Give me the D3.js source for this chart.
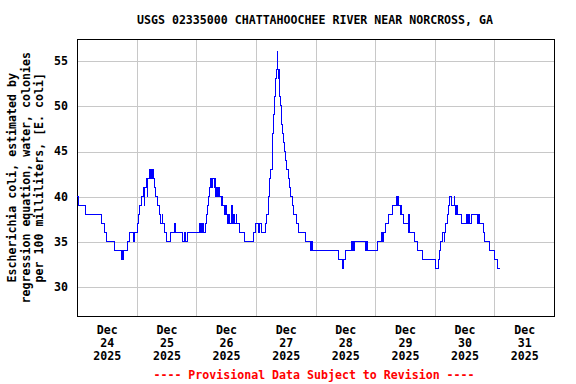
<!DOCTYPE html>
<html>
<head>
<meta charset="utf-8">
<script src="https://cdn.jsdelivr.net/npm/d3@7"></script>
<style>
  body { margin: 0; background: #fff; }
  text { font-family: "DejaVu Sans Mono", monospace; font-weight: bold; font-size: 11.6px; }
</style>
</head>
<body>
<div class="chart"></div>
<script>
// hours since Dec 24 2025 00:00, and the estimated E. coli value from that time on
const hoursSinceStart = [
  0, 0.5, 3.6, 10.0, 11.0, 12.0, 14.9, 17.8, 18.2, 18.5, 18.9, 20.3, 21.0, 22.8, 23.2,
  24.4, 24.8, 25.2, 25.8, 26.6, 27.0, 27.3, 27.8, 28.2, 28.5, 29.0, 29.3, 29.7, 30.1, 30.4,
  30.7, 31.2, 31.6, 32.3, 33.2, 33.7, 34.3, 34.5, 35.3, 36.2, 37.5, 39.4, 39.7, 42.6, 43.2,
  43.8, 44.5, 49.3, 49.6, 50.0, 50.3, 50.7, 51.0, 51.7, 52.2, 52.6, 52.9, 53.3, 53.8, 54.3,
  54.6, 55.2, 55.5, 55.8, 56.2, 56.6, 56.9, 57.4, 58.0, 58.4, 58.7, 59.4, 59.8, 60.1, 60.6,
  61.0, 61.4, 62.1, 62.4, 63.0, 63.3, 64.0, 64.3, 65.5, 67.5, 71.2, 71.8, 72.9, 73.6, 74.2,
  76.0, 76.4, 76.9, 77.4, 78.0, 78.6, 79.0, 79.2, 79.6, 80.0, 80.4, 80.7, 80.9, 81.1, 81.3,
  81.7, 82.1, 82.4, 82.8, 83.2, 83.6, 84.0, 84.5, 85.0, 85.4, 86.0, 86.6, 87.3, 88.3, 89.2,
  91.9, 93.9, 94.3, 94.6, 105.3, 107.0, 107.3, 108.2, 110.6, 110.9, 111.2, 111.5, 111.8, 116.2, 116.5,
  116.8, 121.0, 122.6, 123.0, 123.3, 124.2, 125.3, 126.8, 128.6, 128.9, 129.2, 129.5, 130.1, 130.5, 130.8,
  131.5, 133.3, 133.6, 133.8, 135.9, 137.2, 139.2, 144.2, 145.5, 145.8, 146.3, 147.3, 147.8, 148.0, 148.5,
  149.0, 149.5, 150.0, 150.9, 151.8, 152.1, 152.4, 152.7, 153.1, 154.6, 156.6, 156.9, 157.2, 157.5, 157.8,
  158.1, 158.6, 161.3, 161.7, 162.0, 163.6, 164.2, 165.9, 168.2, 169.4, 170.3
]
const ecoliValues = [
  40, 39, 38, 37, 36, 35, 34, 33, 34, 33, 34, 35, 36, 35, 36,
  37, 38, 39, 40, 41, 39, 41, 42, 40, 42, 43, 42, 43, 42, 43,
  42, 41, 40, 39, 38, 37, 38, 37, 36, 35, 36, 37, 36, 35, 36,
  35, 36, 37, 36, 37, 36, 37, 36, 37, 38, 39, 40, 41, 42, 41,
  42, 41, 42, 40, 41, 40, 41, 40, 39, 40, 39, 38, 39, 38, 37,
  38, 37, 39, 37, 38, 37, 38, 37, 36, 35, 36, 37, 36, 37, 36,
  37, 38, 40, 42, 43, 47, 48, 49, 51, 53, 54, 56, 54, 53, 54,
  51, 50, 48, 47, 46, 45, 44, 43, 42, 41, 40, 39, 38, 37, 36,
  35, 34, 35, 34, 33, 32, 33, 34, 35, 34, 35, 34, 35, 34, 35,
  34, 35, 36, 35, 36, 37, 38, 39, 40, 39, 40, 39, 38, 39, 38,
  37, 36, 38, 36, 35, 34, 33, 32, 33, 34, 35, 36, 35, 36, 37,
  38, 39, 40, 39, 40, 39, 38, 39, 38, 37, 38, 37, 38, 37, 38,
  37, 38, 37, 38, 37, 36, 35, 34, 33, 32, 32
]
const yTicks = [30, 35, 40, 45, 50, 55]
const dayMonths = ['Dec', 'Dec', 'Dec', 'Dec', 'Dec', 'Dec', 'Dec', 'Dec']
const dayNumbers = ['24', '25', '26', '27', '28', '29', '30', '31']
const dayYears = ['2025', '2025', '2025', '2025', '2025', '2025', '2025', '2025']

const titleText = 'USGS 02335000 CHATTAHOOCHEE RIVER NEAR NORCROSS, GA'
const yLabelLines = [
  'Escherichia coli, estimated by',
  'regression equation, water, colonies',
  'per 100 milliliters, [E. coli]'
]
const footerText = '---- Provisional Data Subject to Revision ----'

const width = 576
const height = 384
const plotLeft = 77, plotRight = 554, plotTop = 39.5, plotBottom = 316

const start = new Date(2025, 11, 24)
const end = new Date(2026, 0, 1)
const toDate = h => new Date(start.getTime() + h * 3600000)

const dataset = hoursSinceStart.map((h, i) => [toDate(h), ecoliValues[i]])

const xScale = d3.scaleTime().domain([start, end]).range([plotLeft, plotRight])
const yScale = d3.scaleLinear().domain([26.76, 57.35]).range([plotBottom, plotTop])

const svg = d3.select('.chart')
  .append('svg')
  .attr('width', width)
  .attr('height', height)

svg.append('rect').attr('width', width).attr('height', height).attr('fill', '#fff')

// horizontal grid + y labels
const yAxis = svg.append('g')
  .attr('transform', `translate(${plotLeft},0)`)
  .call(d3.axisLeft(yScale).tickValues(yTicks).tickSize(-(plotRight - plotLeft)).tickPadding(9))
yAxis.select('.domain').remove()
yAxis.selectAll('line').attr('stroke', '#c8c8c8').attr('shape-rendering', 'crispEdges')
  .attr('y1', 0.5).attr('y2', 0.5)
yAxis.selectAll('text').attr('fill', '#000').attr('font-size', null).attr('font-family', null)

// vertical grid at midnight
const midnights = d3.timeDay.range(toDate(24), end)
const xGrid = svg.append('g')
  .attr('transform', `translate(0,${plotBottom})`)
  .call(d3.axisBottom(xScale).tickValues(midnights).tickSize(-(plotBottom - plotTop)).tickFormat(''))
xGrid.select('.domain').remove()
xGrid.selectAll('line').attr('stroke', '#c8c8c8').attr('shape-rendering', 'crispEdges')

// day labels at noon, three lines each
const noons = dayNumbers.map((d, i) => toDate(i * 24 + 12))
const xAxis = svg.append('g')
  .attr('transform', `translate(0,${plotBottom})`)
  .call(d3.axisBottom(xScale).tickValues(noons).tickSize(0).tickFormat(''))
xAxis.select('.domain').remove()
xAxis.selectAll('.tick text').remove()
xAxis.selectAll('.tick').each(function(d, i) {
  const t = d3.select(this)
  const rows = [dayMonths[i], dayNumbers[i], dayYears[i]]
  rows.forEach((r, j) => {
    t.append('text')
      .attr('x', 0)
      .attr('y', 18 + j * 13)
      .attr('fill', '#000')
      .attr('text-anchor', 'middle')
      .text(r)
  })
})

// plot frame
svg.append('rect')
  .attr('x', plotLeft + 0.5).attr('y', plotTop)
  .attr('width', plotRight - plotLeft - 0.5).attr('height', plotBottom - plotTop)
  .attr('fill', 'none').attr('stroke', '#000').attr('shape-rendering', 'crispEdges')

const line = d3.line()
  .x(d => xScale(d[0]))
  .y(d => yScale(d[1]))
  .curve(d3.curveStepAfter)

svg.append('path')
  .datum(dataset)
  .attr('d', line)
  .attr('fill', 'none')
  .attr('stroke', '#0000ff')
  .attr('stroke-width', 1)
  .attr('shape-rendering', 'crispEdges')

svg.append('text')
  .attr('x', 315).attr('y', 24)
  .attr('text-anchor', 'middle')
  .text(titleText)

const midY = (plotTop + plotBottom) / 2
yLabelLines.forEach((l, i) => {
  svg.append('text')
    .attr('transform', `translate(${16 + i * 13.6},${midY}) rotate(-90)`)
    .attr('text-anchor', 'middle')
    .text(l)
})

svg.append('text')
  .attr('x', 314).attr('y', 379)
  .attr('text-anchor', 'middle')
  .attr('fill', '#ff0000')
  .text(footerText)
</script>
</body>
</html>
